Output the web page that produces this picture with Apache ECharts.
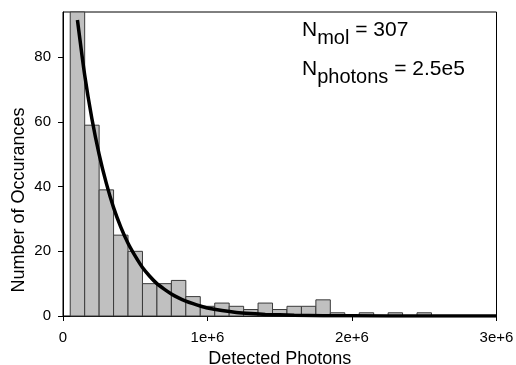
<!DOCTYPE html>
<html>
<head>
<meta charset="utf-8">
<script src="https://cdn.jsdelivr.net/npm/echarts@6/dist/echarts.min.js"></script>
<style>
html,body{margin:0;padding:0;background:#fff;}
#chart{width:516px;height:365px;}
</style>
</head>
<body>
<div id="chart"></div>
<script>
// Histogram bins (bin centers, detected photons) and counts
var binWidth = 1e5;
var binCenters = [1e5, 2e5, 3e5, 4e5, 5e5, 6e5, 7e5, 8e5, 9e5, 1.0e6, 1.1e6, 1.2e6, 1.3e6,
                  1.4e6, 1.5e6, 1.6e6, 1.7e6, 1.8e6, 1.9e6, 2.0e6, 2.1e6, 2.2e6, 2.3e6, 2.4e6, 2.5e6];
var counts = [94, 59, 39, 25, 20, 10, 10, 11, 6, 3, 4, 3, 2,
              4, 2, 3, 3, 5, 1, 0, 1, 0, 1, 0, 1];

// Fitted curve
var curveX = [1.0e5, 1.5e5, 2.0e5, 2.5e5, 3.0e5, 3.5e5, 4.0e5, 4.5e5, 5.0e5, 5.5e5, 6.0e5,
              6.5e5, 7.0e5, 7.5e5, 8.0e5, 8.5e5, 9.0e5, 9.5e5, 1.0e6, 1.1e6, 1.2e6, 1.3e6,
              1.4e6, 1.6e6, 1.8e6, 2.0e6, 2.5e6, 3.0e6];
var curveY = [91.5, 74.5, 61, 50, 41, 33.5, 27.5, 22.5, 18.5, 15, 12.3,
              10, 8.3, 6.8, 5.6, 4.6, 3.8, 3.1, 2.5, 1.7, 1.1, 0.75,
              0.5, 0.25, 0.1, 0.05, 0, 0];

// Axes
var xMin = 0, xMax = 3e6, xInterval = 1e6;
var yMin = 0, yMax = 94;
var yTicks = [0, 20, 40, 60, 80];
var xTickLabels = ['0', '1e+6', '2e+6', '3e+6'];

var xTitle = 'Detected Photons';
var yTitle = 'Number of Occurances';
var nMol = '307';
var nPhotons = '2.5e5';

var FONT = '"Liberation Sans", Arial, sans-serif';

var barData = binCenters.map(function (c, i) { return [c, counts[i]]; });
var curveData = curveX.map(function (x, i) { return [x, curveY[i]]; });

var chart = echarts.init(document.getElementById('chart'), null, {renderer: 'canvas'});

var richStyle = {
  n: {fontSize: 21, fontFamily: FONT, color: '#000', lineHeight: 22, verticalAlign: 'top'},
  s: {fontSize: 20, fontFamily: FONT, color: '#000', lineHeight: 22, verticalAlign: 'top', padding: [9, 0, 0, 0]},
  e: {fontSize: 21, fontFamily: FONT, color: '#000', lineHeight: 22, verticalAlign: 'top'}
};

chart.setOption({
  animation: false,
  backgroundColor: '#fff',
  grid: {
    left: 63, right: 19.5, top: 12, bottom: 49,
    containLabel: false, outerBoundsMode: 'none',
    show: true, borderColor: '#000', borderWidth: 1, backgroundColor: '#fff'
  },
  xAxis: {
    type: 'value', min: xMin, max: xMax, interval: xInterval,
    name: xTitle, nameLocation: 'middle', nameGap: 30,
    nameTextStyle: {fontSize: 18, fontFamily: FONT, color: '#000'},
    axisLine: {show: true, onZero: false, lineStyle: {color: '#000', width: 1}},
    axisTick: {show: true, length: 5, lineStyle: {color: '#000'}},
    axisLabel: {
      fontSize: 15, fontFamily: FONT, color: '#000', margin: 14,
      formatter: function (v) { return xTickLabels[Math.round(v / xInterval)]; }
    },
    splitLine: {show: false}
  },
  yAxis: {
    type: 'value', min: yMin, max: yMax,
    axisLine: {show: true, onZero: false, lineStyle: {color: '#000', width: 1}},
    axisTick: {show: true, length: 5, lineStyle: {color: '#000'}, customValues: yTicks},
    axisLabel: {fontSize: 15, fontFamily: FONT, color: '#000', margin: 12, customValues: yTicks},
    splitLine: {show: false}
  },
  graphic: [
    {
      type: 'text', x: 19.5, y: 200, rotation: Math.PI / 2,
      style: {text: yTitle, fontSize: 18, fontFamily: FONT, fill: '#000', align: 'center', verticalAlign: 'middle'}
    },
    {
      type: 'text', x: 302, y: 19.5,
      style: {text: '{n|N}{s|mol}{e| = ' + nMol + '}', rich: richStyle}
    },
    {
      type: 'text', x: 302, y: 58.5,
      style: {text: '{n|N}{s|photons}{e| = ' + nPhotons + '}', rich: richStyle}
    }
  ],
  series: [
    {
      type: 'custom',
      data: barData,
      z: 2,
      renderItem: function (params, api) {
        var c = api.value(0), v = api.value(1);
        if (!v) return null;
        var p1 = api.coord([c - binWidth / 2, v]);
        var p2 = api.coord([c + binWidth / 2, 0]);
        var rect = echarts.graphic.clipRectByRect(
          {x: p1[0], y: p1[1], width: p2[0] - p1[0], height: p2[1] - p1[1]},
          {x: params.coordSys.x, y: params.coordSys.y, width: params.coordSys.width, height: params.coordSys.height}
        );
        if (!rect) return null;
        return {
          type: 'rect', shape: rect,
          style: {fill: '#c0c0c0', stroke: '#3a3a3a', lineWidth: 1}
        };
      }
    },
    {
      type: 'line',
      data: curveData,
      smooth: 0.25,
      showSymbol: false,
      symbol: 'none',
      clip: true,
      z: 3,
      lineStyle: {color: '#000', width: 3.5}
    }
  ]
});
</script>
</body>
</html>
